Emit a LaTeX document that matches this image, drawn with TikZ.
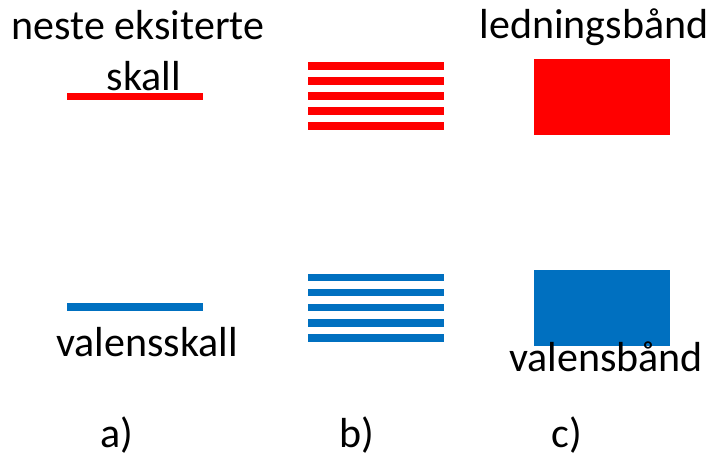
\documentclass[tikz,border=0pt]{standalone}
\usepackage{fontspec}
\setmainfont{Carlito}
\usetikzlibrary{positioning}
\definecolor{excred}{RGB}{255,0,0}
\definecolor{valblue}{RGB}{0,112,192}

\begin{document}
\begin{tikzpicture}[x=1pt,y=-1pt,
    lbl/.style={font=\fontsize{42}{48}\selectfont,anchor=base,inner sep=0pt},
    lvl/.style={line width=7.5pt}]
  \useasboundingbox (0,0) rectangle (711,461);
  % a) single shells
  \draw[lvl,excred] (67,96.5) -- (203,96.5);
  \draw[lvl,valblue] (67,307) -- (203,307);
  \node[lbl] (exctop) at (138,39) {neste eksiterte};
  \node[lbl] (excbot) at (144,90) {skall};
  \node[lbl] (valshell) at (147,356) {valensskall};
  % b) many closely spaced levels
  \foreach \k in {0,...,4} {
    \draw[lvl,excred] (308,66+15*\k) -- (444,66+15*\k);
    \draw[lvl,valblue] (308,277.3+15.2*\k) -- (444,277.3+15.2*\k);
  }
  % c) continuous bands
  \fill[excred] (534,58.5) rectangle (670,134.5);
  \fill[valblue] (534,269.5) rectangle (670,345.5);
  \node[lbl] (condband) at (594,38) {ledningsbånd};
  \node[lbl] (valband) at (606,371) {valensbånd};
  % captions
  \node[lbl] (capa) at (117,447) {a)};
  \node[lbl] (capb) at (357,447) {b)};
  \node[lbl] (capc) at (567,447) {c)};
\end{tikzpicture}
\end{document}
